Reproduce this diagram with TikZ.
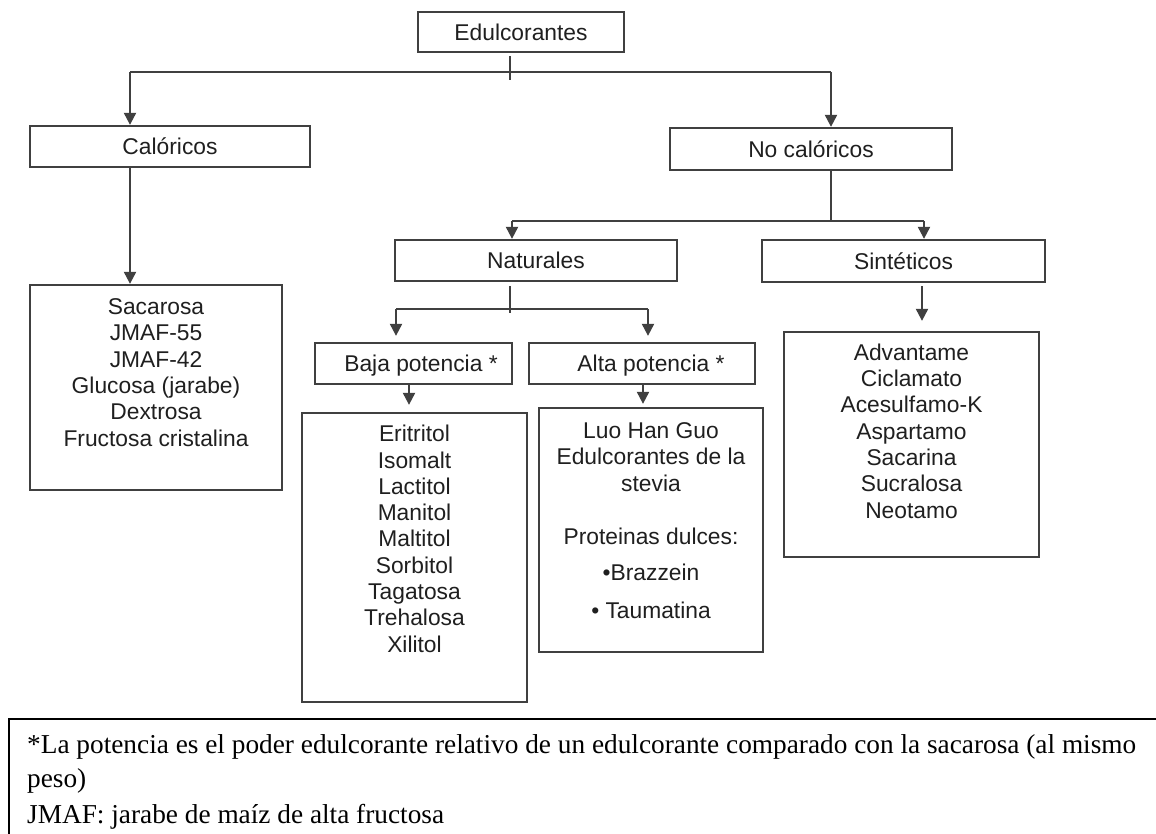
\documentclass[tikz,border=0pt]{standalone}
\usepackage{fontspec}
\setmainfont{Liberation Sans}
\newfontfamily\footfont{Liberation Serif}
\usetikzlibrary{arrows.meta}
\begin{document}
\begin{tikzpicture}[x=1pt,y=-1pt,
  ln/.style={line width=2.1pt, draw=black!75},
  arr/.style={ln, -{Triangle[width=12pt,length=12pt]}},
  box/.style={draw=black!75, line width=2.3pt, inner sep=0pt, text=black!88,
    font=\fontsize{22.8}{26.3}\selectfont, text height=16.3pt, text depth=0pt},
  btxt/.style={inner sep=0pt, text=black!88,
    font=\fontsize{22.8}{26.3}\selectfont, text height=16.3pt, text depth=0pt},
  ltxt/.style={inner sep=0pt, align=center, text=black!88, anchor=north,
    font=\fontsize{22.8}{26.3}\selectfont},
  ftxt/.style={inner sep=0pt, anchor=base west, text=black,
    font=\footfont\fontsize{27.3}{35}\selectfont},
]
\useasboundingbox (0,0) rectangle (1156,834);

% boxes
\node[box, minimum width=206pt, minimum height=40pt] (E) at (521,32) {Edulcorantes};
\node[box, minimum width=280pt, minimum height=41pt] (Cal) at (170,146.5) {Calóricos};
\node[box, minimum width=282pt, minimum height=42pt] (NoC) at (811,149) {No calóricos};
\node[box, minimum width=282pt, minimum height=41pt] (Nat) at (536,260.5) {Naturales};
\node[box, minimum width=283pt, minimum height=42pt] (Sin) at (903.5,261) {Sintéticos};
\node[box, minimum width=197pt, minimum height=41pt] (Baja) at (413.5,363.5) {};
\node[btxt] (BajaTxt) at (421,363.5) {Baja potencia *};
\node[box, minimum width=226pt, minimum height=41pt] (Alta) at (642,363.5) {};
\node[btxt] (AltaTxt) at (651,363.5) {Alta potencia *};

% list boxes
\node[box, minimum width=252pt, minimum height=205pt] (CalL) at (156,387.5) {};
\node[ltxt] (CalT) at (156,298.5) {Sacarosa\\JMAF-55\\JMAF-42\\Glucosa (jarabe)\\Dextrosa\\Fructosa cristalina};
\node[box, minimum width=225pt, minimum height=289pt] (BajaL) at (414.5,557.5) {};
\node[ltxt] (BajaT) at (414.5,425) {Eritritol\\Isomalt\\Lactitol\\Manitol\\Maltitol\\Sorbitol\\Tagatosa\\Trehalosa\\Xilitol};
\node[box, minimum width=224pt, minimum height=244pt] (AltaL) at (651,530) {};
\node[ltxt] (AltaT) at (651,422.5) {Luo Han Guo\\Edulcorantes de la\\stevia\\[26.7pt]Proteinas dulces:\\[10pt]•Brazzein\\[12pt]• Taumatina};
\node[box, minimum width=255pt, minimum height=225pt] (SinL) at (911.5,444.5) {};
\node[ltxt] (SinT) at (911.5,343.5) {Advantame\\Ciclamato\\Acesulfamo-K\\Aspartamo\\Sacarina\\Sucralosa\\Neotamo};

% connectors: level 1
\coordinate (t1) at (510,56);
\coordinate (t2) at (510,80);
\draw[ln] (t1) -- (t2);
\coordinate (h1) at (130,72);
\coordinate (h2) at (831,72);
\draw[ln] (h1) -- (h2);
\draw[arr] (h1) -- (h1 |- Cal.north);
\draw[arr] (h2) -- (h2 |- NoC.north);
\draw[arr] (h1 |- Cal.south) -- (h1 |- CalL.north);

% level 2
\coordinate (n1) at (831,221);
\draw[ln] (h2 |- NoC.south) -- (n1);
\coordinate (n2) at (512,221);
\coordinate (n3) at (924,221);
\draw[ln] (n2) -- (n3);
\draw[arr] (n2) -- (n2 |- Nat.north);
\draw[arr] (n3) -- (n3 |- Sin.north);

% level 3
\coordinate (m1) at (510,286);
\coordinate (m2) at (510,313);
\draw[ln] (m1) -- (m2);
\coordinate (m3) at (396,309);
\coordinate (m4) at (648,309);
\draw[ln] (m3) -- (m4);
\draw[arr, shorten >=6pt] (m3) -- (m3 |- Baja.north);
\draw[arr, shorten >=6pt] (m4) -- (m4 |- Alta.north);

\coordinate (b1) at (409,0);
\draw[arr, shorten >=7pt] (b1 |- Baja.south) -- (b1 |- BajaL.north);
\coordinate (a1) at (643,0);
\draw[arr, shorten >=3pt] (a1 |- Alta.south) -- (a1 |- AltaL.north);
\coordinate (s1) at (922,0);
\draw[arr, shorten <=3pt, shorten >=10pt] (s1 |- Sin.south) -- (s1 |- SinL.north);

% footnote box
\draw[line width=2.2pt, black] (1160,719) -- (9,719) -- (9,840);
\node[ftxt] (f1) at (27,753) {*La potencia es el poder edulcorante relativo de un edulcorante comparado con la sacarosa (al mismo};
\node[ftxt] (f2) at (27,787) {peso)};
\node[ftxt] (f3) at (27,823) {JMAF: jarabe de maíz de alta fructosa};
\end{tikzpicture}
\end{document}
